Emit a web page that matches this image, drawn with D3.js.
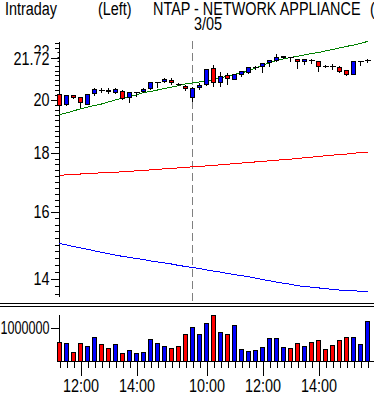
<!DOCTYPE html>
<html lang="en">
<head>
<meta charset="utf-8">
<script src="https://d3js.org/d3.v7.min.js"></script>
<title>NTAP intraday</title>
<style>
  body { margin: 0; background: #fff; }
  text { font-family: "Liberation Sans", Arial, sans-serif; font-size: 18px; fill: #000; }
</style>
</head>
<body>
<div id="chart"></div>
<script>
// 15-minute bars, 3/04 11:15 .. 3/05 15:45
var opens  = [20.22,19.84,20.16,20.08,19.84,20.24,20.40,20.40,20.28,20.36,20.08,20.28,20.32,20.48,20.69,20.73,20.81,20.64,20.56,
              20.08,20.52,20.64,21.28,20.69,20.98,20.85,21.06,21.11,21.32,21.36,21.54,21.63,21.76,21.76,21.67,21.58,21.63,21.58,21.36,21.36,21.32,21.19,21.06,21.58,21.63];
var highs  = [20.24,20.20,20.20,20.12,20.24,20.48,20.48,20.48,20.48,20.40,20.32,20.32,20.48,20.69,20.69,20.89,20.89,20.69,20.60,
              20.52,20.69,21.28,21.45,21.15,21.11,21.06,21.19,21.36,21.40,21.54,21.67,21.90,21.85,21.76,21.72,21.72,21.72,21.63,21.45,21.49,21.40,21.23,21.63,21.58,21.72];
var lows   = [19.72,19.76,20.04,19.68,19.84,20.16,20.28,20.24,20.24,20.00,19.88,20.12,20.28,20.40,20.48,20.69,20.60,20.56,20.36,
              19.92,20.40,20.56,20.52,20.52,20.60,20.81,20.94,21.06,21.23,21.11,21.36,21.58,21.72,21.58,21.28,21.45,21.49,21.15,21.32,21.23,21.11,20.98,21.02,21.40,21.54];
var closes = [19.78,20.16,20.08,19.88,20.20,20.44,20.40,20.32,20.44,20.04,20.28,20.28,20.44,20.69,20.69,20.85,20.69,20.64,20.48,
              20.48,20.60,21.23,20.69,20.94,20.89,21.02,21.15,21.32,21.32,21.49,21.63,21.76,21.81,21.76,21.58,21.67,21.63,21.36,21.36,21.36,21.15,21.06,21.58,21.58,21.63];
var volumes = [560000,530000,260000,530000,430000,720000,500000,380000,500000,230000,320000,230000,260000,660000,530000,430000,380000,430000,810000,
               1020000,790000,1120000,1360000,850000,790000,1060000,350000,290000,320000,410000,670000,670000,410000,380000,530000,440000,560000,620000,350000,470000,620000,720000,720000,510000,1180000];
var volUp = [0,1,0,0,1,1,0,0,1,0,1,1,1,1,1,1,0,0,0,
             1,1,1,0,1,0,1,1,1,1,1,1,1,1,0,0,1,0,0,0,0,0,0,1,1,1];
// moving averages
var maGreen = [19.42,19.49,19.57,19.65,19.72,19.78,19.84,19.92,20.00,20.08,20.14,20.20,20.30,20.34,20.40,20.46,20.52,20.58,20.65,
               20.69,20.73,20.77,20.83,20.89,20.98,21.04,21.11,21.19,21.32,21.43,21.54,21.63,21.70,21.77,21.81,21.88,21.94,21.98,22.05,22.11,22.18,22.25,22.31,22.38,22.47];
var maRed = [17.22,17.23,17.25,17.26,17.27,17.29,17.30,17.31,17.32,17.34,17.35,17.37,17.39,17.40,17.42,17.44,17.46,17.47,17.49,
             17.51,17.53,17.54,17.56,17.58,17.60,17.62,17.64,17.66,17.68,17.70,17.72,17.74,17.76,17.78,17.80,17.83,17.85,17.87,17.90,17.92,17.94,17.96,17.99,18.01,18.03];
var maBlue = [15.03,14.99,14.94,14.90,14.86,14.81,14.77,14.73,14.69,14.65,14.62,14.59,14.56,14.52,14.49,14.46,14.43,14.39,14.36,
              14.33,14.30,14.26,14.23,14.20,14.16,14.13,14.10,14.07,14.03,13.99,13.96,13.92,13.89,13.86,13.82,13.80,13.78,13.76,13.74,13.72,13.70,13.69,13.68,13.67,13.65];
var dayBreak = 19;
var timeTickIdx = [3, 11, 21, 29, 37];
var timeTickText = ["12:00", "14:00", "10:00", "12:00", "14:00"];
var priceMajor = [14, 16, 18, 20, 22];
var lastPrice = 21.72;

var W = 374, H = 397;
var svg = d3.select("#chart").append("svg")
    .attr("width", W).attr("height", H)
    .style("display", "block");

var x = d3.scaleLinear().domain([0, 44]).range([59.5, 367.5]);
var y = d3.scaleLog().domain([13.54, 22.49]).range([296, 41]);
var yv = d3.scaleLinear().domain([0, 1420000]).range([361, 314]);

// titles
svg.append("text").attr("x", 5).attr("y", 15).text("Intraday");
svg.append("text").attr("x", 98).attr("y", 15).text("(Left)");
svg.append("text").attr("x", 153).attr("y", 15).text("NTAP - NETWORK APPLIANCE");
svg.append("text").attr("x", 370).attr("y", 15).text("(Right)");
svg.append("text").attr("x", 194).attr("y", 30).text("3/05");

// day separator
svg.append("line")
    .attr("x1", x(dayBreak)).attr("x2", x(dayBreak))
    .attr("y1", 41).attr("y2", 301)
    .attr("stroke", "#808080").attr("stroke-dasharray", "8,4");

// price axis
var minorVals = d3.range(68, 113).map(function(d){ return d / 5; });
svg.append("g").attr("transform", "translate(58.5,0)")
    .call(d3.axisLeft(y).tickValues(minorVals).tickSize(4).tickSizeOuter(0).tickFormat(""))
    .attr("shape-rendering", "crispEdges");
var pAxis = svg.append("g").attr("transform", "translate(58.5,0)")
    .call(d3.axisLeft(y).tickValues(priceMajor).tickSize(8).tickPadding(1).tickSizeOuter(0).tickFormat(d3.format("d")))
    .attr("shape-rendering", "crispEdges");
pAxis.select(".domain").remove();

// last price label with white box on top of the 22 label
var lp = svg.append("g").attr("transform", "translate(58.5," + y(lastPrice) + ")");
lp.append("rect").attr("x", -58).attr("y", -7).attr("width", 57).attr("height", 14).attr("fill", "#fff");
lp.append("line").attr("x1", -8).attr("x2", 0).attr("stroke", "#000").attr("shape-rendering", "crispEdges");
lp.append("text").attr("x", -9).attr("dy", "0.35em").attr("text-anchor", "end").text(d3.format(".2f")(lastPrice));

// moving averages
function maLine(arr) {
    return d3.line().x(function(d, i){ return x(i); }).y(function(d){ return y(d); })(arr);
}
[[maBlue, "#0000ff"], [maRed, "#ff0000"], [maGreen, "#008000"]].forEach(function(s) {
    svg.append("path").attr("d", maLine(s[0]))
        .attr("fill", "none").attr("stroke", s[1]).attr("stroke-width", 1)
        .attr("shape-rendering", "crispEdges");
});

// candles
var idx = d3.range(opens.length);
var c = svg.append("g").attr("shape-rendering", "crispEdges");
c.selectAll(".wick").data(idx).enter().append("line")
    .attr("x1", function(i){ return x(i); }).attr("x2", function(i){ return x(i); })
    .attr("y1", function(i){ return y(highs[i]); }).attr("y2", function(i){ return y(lows[i]); })
    .attr("stroke", "#000");
c.selectAll(".body").data(idx.filter(function(i){ return opens[i] != closes[i]; })).enter().append("rect")
    .attr("x", function(i){ return x(i) - 2; }).attr("width", 4)
    .attr("y", function(i){ return y(Math.max(opens[i], closes[i])); })
    .attr("height", function(i){ return Math.max(1, y(Math.min(opens[i], closes[i])) - y(Math.max(opens[i], closes[i]))); })
    .attr("fill", function(i){ return closes[i] > opens[i] ? "#0000ff" : "#ff0000"; })
    .attr("stroke", "#000");
c.selectAll(".doji").data(idx.filter(function(i){ return opens[i] == closes[i]; })).enter().append("line")
    .attr("x1", function(i){ return x(i) - 3; }).attr("x2", function(i){ return x(i) + 3; })
    .attr("y1", function(i){ return y(opens[i]); }).attr("y2", function(i){ return y(opens[i]); })
    .attr("stroke", "#000");

// separator
[303.5, 306.5].forEach(function(yy) {
    svg.append("line").attr("x1", 0).attr("x2", W).attr("y1", yy).attr("y2", yy)
        .attr("stroke", "#000").attr("shape-rendering", "crispEdges");
});

// volume
var vAxis = svg.append("g").attr("transform", "translate(58.5,0)")
    .call(d3.axisLeft(yv).tickValues([1000000]).tickSize(8).tickPadding(1).tickSizeOuter(0).tickFormat(d3.format("d")))
    .attr("shape-rendering", "crispEdges");

svg.append("g").attr("shape-rendering", "crispEdges")
    .selectAll("rect").data(idx).enter().append("rect")
    .attr("x", function(i){ return x(i) - 2; }).attr("width", 4)
    .attr("y", function(i){ return yv(volumes[i]); })
    .attr("height", function(i){ return yv(0) - yv(volumes[i]); })
    .attr("fill", function(i){ return volUp[i] ? "#0000ff" : "#ff0000"; })
    .attr("stroke", "#000");

// time axis
svg.append("line").attr("x1", 58).attr("x2", W).attr("y1", 361.5).attr("y2", 361.5)
    .attr("stroke", "#000").attr("shape-rendering", "crispEdges");
svg.append("g").attr("transform", "translate(0,361.5)")
    .call(d3.axisBottom(x).tickValues(idx).tickSize(6).tickSizeOuter(0).tickFormat(""))
    .attr("shape-rendering", "crispEdges")
    .select(".domain").remove();
var tAxis = svg.append("g").attr("transform", "translate(0,361.5)")
    .call(d3.axisBottom(x).tickValues(timeTickIdx).tickSize(14).tickPadding(4).tickSizeOuter(0)
        .tickFormat(function(d, k){ return timeTickText[k]; }))
    .attr("shape-rendering", "crispEdges");
tAxis.select(".domain").remove();

// the original uses a tall narrow screen font: squeeze every label horizontally
svg.selectAll("text")
    .style("font-family", null).style("font-size", null)
    .each(function() {
        var len = this.getComputedTextLength();
        d3.select(this).attr("textLength", len * 0.8).attr("lengthAdjust", "spacingAndGlyphs");
    });
// the volume label is a little tighter so it fits the margin
vAxis.selectAll("text").attr("textLength", 49);
</script>
</body>
</html>
